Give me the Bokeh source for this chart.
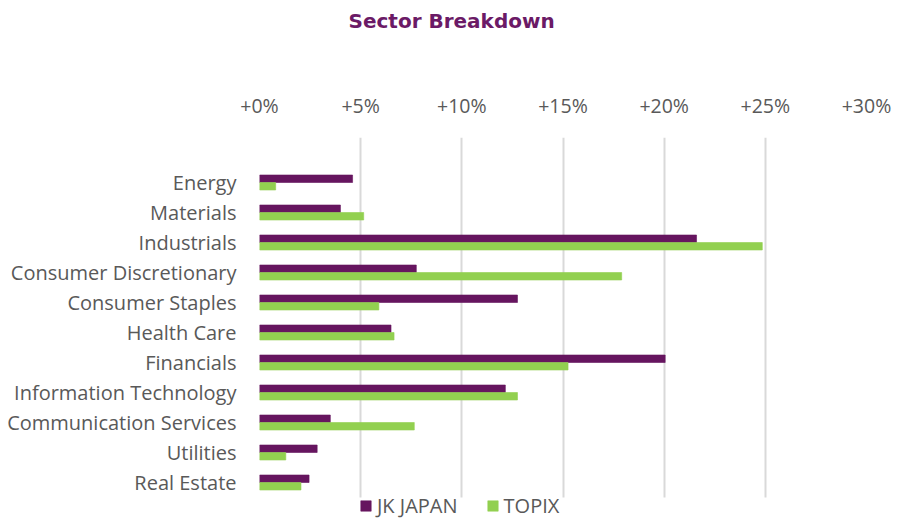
import numpy as np
from bokeh.plotting import figure
from bokeh.layouts import column
from bokeh.models import (ColumnDataSource, FixedTicker, Legend, LegendItem, Range1d,
                          BoxAnnotation)
from bokeh.embed import file_html
from bokeh.resources import INLINE

categories = ["Energy", "Materials", "Industrials", "Consumer Discretionary",
              "Consumer Staples", "Health Care", "Financials",
              "Information Technology", "Communication Services",
              "Utilities", "Real Estate"]
jk_japan = [4.6, 4.0, 21.6, 7.75, 12.75, 6.5, 20.05, 12.15, 3.5, 2.85, 2.45]
topix = [0.8, 5.15, 24.85, 17.9, 5.9, 6.65, 15.25, 12.75, 7.65, 1.3, 2.05]
x_ticks = [0, 5, 10, 15, 20, 25, 30]
x_tick_labels = ["+0%", "+5%", "+10%", "+15%", "+20%", "+25%", "+30%"]
series_names = ["JK JAPAN", "TOPIX"]
chart_title = "Sector Breakdown"

PURPLE = "#66155F"
GREEN = "#92D050"
GRAY = "#595959"
FONT = "Open Sans"

n = len(categories)
ypos = np.arange(n, 0, -1).astype(float)

# ---- title strip -------------------------------------------------------
TITLE_H = 40
tf = figure(width=900, height=TITLE_H, x_axis_location=None, y_axis_location=None,
            output_backend="svg", toolbar_location=None, title=chart_title,
            min_border=0)
tf.outline_line_color = None
tf.grid.grid_line_color = None
tf.title.align = "left"
tf.title.offset = 89
tf.title.standoff = 12
tf.title.text_font = "DejaVu Sans"
tf.title.text_font_size = "20px"
tf.title.text_font_style = "bold"
tf.title.text_color = "#6B1A66"

# ---- main chart --------------------------------------------------------
PX_PER_ROW = 30.0
BOTTOM_PAD = 23  # pixels between the last row slot and the bottom (legend area)
y_lo = 0.5 - BOTTOM_PAD / PX_PER_ROW
y_hi = n + 1.5

src = ColumnDataSource(dict(cat=categories, y=ypos, jk=jk_japan, tp=topix,
                            y_jk=ypos + 0.125, y_tp=ypos - 0.125))

p = figure(width=900, height=520 - TITLE_H,
           x_range=Range1d(0, 30), y_range=Range1d(y_lo, y_hi),
           x_axis_location="above", output_backend="svg", toolbar_location=None,
           min_border_left=259, min_border_right=34, min_border_top=137 - TITLE_H,
           min_border_bottom=0)

r1 = p.hbar(y="y_jk", left=0, right="jk", height=0.25, source=src,
            fill_color=PURPLE, line_color=PURPLE, line_alpha=0.6)
r2 = p.hbar(y="y_tp", left=0, right="tp", height=0.25, source=src,
            fill_color=GREEN, line_color=GREEN, line_alpha=0.6)

p.outline_line_color = None
p.ygrid.grid_line_color = None
xg = p.xgrid[0]
xg.grid_line_color = "#D9D9D9"
xg.grid_line_width = 2
xg.ticker = FixedTicker(ticks=x_ticks)
if "cross_bounds" in xg.properties():
    xg.cross_bounds = (0.5, y_hi)
else:
    p.add_layout(BoxAnnotation(top=0.5, fill_color="white", fill_alpha=1.0,
                               line_color=None, level="underlay"))

xa = p.xaxis[0]
xa.ticker = FixedTicker(ticks=x_ticks)
xa.major_label_overrides = {t: l for t, l in zip(x_ticks, x_tick_labels)}
xa.axis_line_color = None
xa.major_tick_line_color = None
xa.minor_tick_line_color = None
xa.major_label_text_font = FONT
xa.major_label_text_font_size = "19.5px"
xa.major_label_text_color = GRAY
xa.major_label_standoff = 13

ya = p.yaxis[0]
ya.ticker = FixedTicker(ticks=list(ypos))
ya.major_label_overrides = {float(y): c for y, c in zip(ypos, categories)}
ya.axis_line_color = None
ya.major_tick_line_color = None
ya.minor_tick_line_color = None
ya.major_label_text_font = FONT
ya.major_label_text_font_size = "20px"
ya.major_label_text_color = GRAY
ya.major_label_standoff = 17

legend = Legend(items=[LegendItem(label=series_names[0], renderers=[r1]),
                       LegendItem(label=series_names[1], renderers=[r2])],
                orientation="horizontal", location=(100, 1),
                border_line_color=None, background_fill_alpha=0,
                padding=0, margin=0, spacing=28,
                glyph_width=13, glyph_height=13, label_standoff=5,
                label_text_font=FONT, label_text_font_size="20px",
                label_text_color=GRAY, label_height=13)
p.add_layout(legend)

layout = column(tf, p, spacing=0)
open("out.html", "w").write(file_html(layout, INLINE))
